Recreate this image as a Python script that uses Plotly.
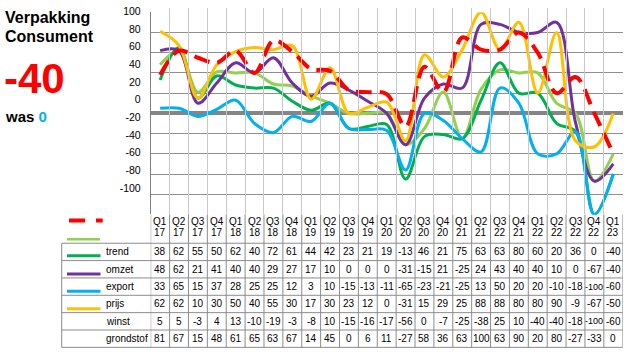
import plotly.graph_objects as go

quarters = ["Q1 17", "Q2 17", "Q3 17", "Q4 17", "Q1 18", "Q2 18", "Q3 18", "Q4 18",
            "Q1 19", "Q2 19", "Q3 19", "Q4 19", "Q1 20", "Q2 20", "Q3 20", "Q4 20",
            "Q1 21", "Q2 21", "Q3 22", "Q4 21", "Q1 22", "Q2 22", "Q3 22", "Q4 22", "Q1 23"]
trend = [38, 62, 55, 50, 62, 40, 72, 61, 44, 42, 23, 21, 19, -13, 46, 21, 75, 63, 63, 80, 60, 20, 36, 0, -40]
omzet = [48, 62, 21, 41, 40, 40, 29, 27, 17, 10, 0, 0, 0, -31, -15, 21, -25, 24, 43, 40, 40, 10, 0, -67, -40]
export = [33, 65, 15, 37, 28, 25, 25, 12, 3, 10, -15, -13, -11, -65, -23, -21, -25, 13, 50, 20, 20, -10, -18, -100, -60]
prijs = [62, 62, 10, 30, 50, 40, 55, 30, 17, 30, 23, 12, 0, -31, 15, 29, 25, 88, 88, 80, 80, 90, -9, -67, -50]
winst = [5, 5, -3, 4, 13, -10, -19, -3, -8, 10, -15, -16, -17, -56, 0, -7, -25, -38, 25, 10, -40, -40, -18, -100, -60]
grondstof = [81, 67, 15, 48, 61, 65, 63, 67, 14, 45, 0, 6, 11, -27, 58, 36, 63, 100, 63, 90, 20, 80, -27, -33, 0]
row_labels = ["trend", "omzet", "export", "prijs", "winst", "grondstof"]
y_tick_labels = [100, 80, 60, 40, 20, 0, -20, -40, -60, -80, -100]
title_lines = ["Verpakking", "Consument"]
current_value = -40
previous_value = 0

series = [trend, omzet, export, prijs, winst, grondstof]

W, H = 630, 354
def px(x):
    return x / W
def py(y):
    return 1 - y / H

RED = "#FF0000"
LGREEN = "#92D050"
GREEN = "#00B050"
PURPLE = "#7030A0"
CYAN = "#00B0F0"
YELLOW = "#FFC000"
TABLE_LINE = "#8c8c8c"
FONT = "Liberation Sans"

styles = [
    dict(color=RED, width=4, dash="16px,8px"),
    dict(color=LGREEN, width=3),
    dict(color=GREEN, width=3),
    dict(color=PURPLE, width=3),
    dict(color=CYAN, width=3),
    dict(color=YELLOW, width=3),
]
draw_order = [1, 2, 3, 4, 5, 0]
ncol = len(quarters)
xs = list(range(ncol))

fig = go.Figure()
for i in draw_order:
    fig.add_trace(go.Scatter(
        x=xs, y=series[i], mode="lines", name=row_labels[i],
        line=dict(shape="spline", smoothing=1.0, **styles[i]),
        showlegend=False, hoverinfo="skip",
    ))
# registers the label axis (no visible marks)
fig.add_trace(go.Scatter(x=[], y=[], yaxis="y2", mode="lines", showlegend=False, hoverinfo="skip"))

# geometry
PLOT_L, PLOT_R, PLOT_T, PLOT_B = 150.7, 622.7, 9.3, 213.3
TABLE_L = 61.7
ROW_TOP = 242.3
ROW_H = 17.5
LABEL_TOP_PX = 5.0

fig.update_layout(
    width=W, height=H,
    margin=dict(l=0, r=0, t=0, b=0),
    paper_bgcolor="white", plot_bgcolor="rgba(0,0,0,0)",
    font=dict(family=FONT, size=10, color="black"),
    xaxis=dict(domain=[px(PLOT_L), px(PLOT_R)], range=[-0.5, ncol - 0.5],
               tick0=-0.5, dtick=1, showticklabels=False, ticks="",
               showgrid=True, gridcolor="#c8c8c8", gridwidth=1, zeroline=False,
               showline=False, fixedrange=True),
    yaxis=dict(domain=[py(PLOT_B), py(PLOT_T)], range=[-100, 100], dtick=20,
               showticklabels=False, ticks="", showgrid=True, gridcolor="#909090",
               gridwidth=1, zeroline=True, zerolinecolor="#858585", zerolinewidth=3.5,
               showline=True, linecolor="#808080", linewidth=1, fixedrange=True),
    # tick-label axis: labels sit on a slightly compressed scale, as in the reference
    yaxis2=dict(anchor="x", side="left", domain=[py(PLOT_B), py(LABEL_TOP_PX)],
                range=[-129.8, 103.7],
                tickvals=y_tick_labels, ticktext=[str(v) for v in y_tick_labels],
                showgrid=False, zeroline=False, showline=False, ticks="",
                ticklabelstandoff=9, tickfont=dict(family=FONT, size=10.5, color="black"),
                fixedrange=True),
)

# ---- data table (text via annotations positioned on the category scale) ----
for j, q in enumerate(quarters):
    qpart, ypart = q.split(" ")
    fig.add_annotation(x=j, y=py(220.7), xref="x", yref="paper", text=qpart, showarrow=False,
                       xanchor="center", yanchor="middle", font=dict(family=FONT, size=10, color="black"))
    fig.add_annotation(x=j, y=py(231.3), xref="x", yref="paper", text=ypart, showarrow=False,
                       xanchor="center", yanchor="middle", font=dict(family=FONT, size=10, color="black"))

for k, (lab, s) in enumerate(zip(row_labels, series)):
    yc = ROW_TOP + ROW_H * (k + 0.5)
    fig.add_annotation(x=px(104), y=py(yc), xref="paper", yref="paper", text=lab, showarrow=False,
                       xanchor="left", yanchor="middle", font=dict(family=FONT, size=10, color="black"))
    for j, v in enumerate(s):
        fig.add_annotation(x=j, y=py(yc), xref="x", yref="paper", text=str(v), showarrow=False,
                           xanchor="center", yanchor="middle",
                           font=dict(family=FONT, size=10 if len(str(v)) < 4 else 9, color="black"))

TABLE_B = ROW_TOP + ROW_H * len(row_labels)
# horizontal table borders
for k in range(len(row_labels) + 1):
    yk = ROW_TOP + ROW_H * k
    fig.add_shape(type="line", xref="paper", yref="paper", x0=px(TABLE_L), x1=px(PLOT_R),
                  y0=py(yk), y1=py(yk), line=dict(color=TABLE_LINE, width=1))
# vertical table borders
for j in range(ncol + 1):
    fig.add_shape(type="line", xref="x", yref="paper", x0=j - 0.5, x1=j - 0.5,
                  y0=py(PLOT_B), y1=py(TABLE_B), line=dict(color=TABLE_LINE, width=1))
fig.add_shape(type="line", xref="paper", yref="paper", x0=px(TABLE_L), x1=px(TABLE_L),
              y0=py(ROW_TOP), y1=py(TABLE_B), line=dict(color=TABLE_LINE, width=1))

# legend keys
key_shapes = [
    (219.3, RED, 4, "16px,11px", 69, 102.7),
    (238.3, LGREEN, 2.5, "solid", 67, 100),
    (255.0, GREEN, 3, "solid", 67, 100.5),
    (273.3, PURPLE, 3, "solid", 67, 100.5),
    (290.7, CYAN, 3, "solid", 67, 100.5),
    (308.3, YELLOW, 3, "solid", 67, 100.5),
]
for yk, col, wd, ds, x0, x1 in key_shapes:
    fig.add_shape(type="line", xref="paper", yref="paper",
                  x0=px(x0), x1=px(x1), y0=py(yk), y1=py(yk),
                  line=dict(color=col, width=wd, dash=ds))

# left texts
fig.add_annotation(x=px(3), y=py(15), xref="paper", yref="paper", xanchor="left", yanchor="middle",
                   text="<b>%s</b>" % title_lines[0], showarrow=False,
                   font=dict(family=FONT, size=16, color="black"))
fig.add_annotation(x=px(3), y=py(34), xref="paper", yref="paper", xanchor="left", yanchor="middle",
                   text="<b>%s</b>" % title_lines[1], showarrow=False,
                   font=dict(family=FONT, size=16, color="black"))
fig.add_annotation(x=px(2), y=py(76), xref="paper", yref="paper", xanchor="left", yanchor="middle",
                   text="<b>%d</b>" % current_value, showarrow=False,
                   font=dict(family=FONT, size=42, color=RED))
fig.add_annotation(x=px(3), y=py(114), xref="paper", yref="paper", xanchor="left", yanchor="middle",
                   text="<b>was <span style='color:%s'>%d</span></b>" % (CYAN, previous_value),
                   showarrow=False, font=dict(family=FONT, size=15, color="black"))

fig.write_html("out.html")
